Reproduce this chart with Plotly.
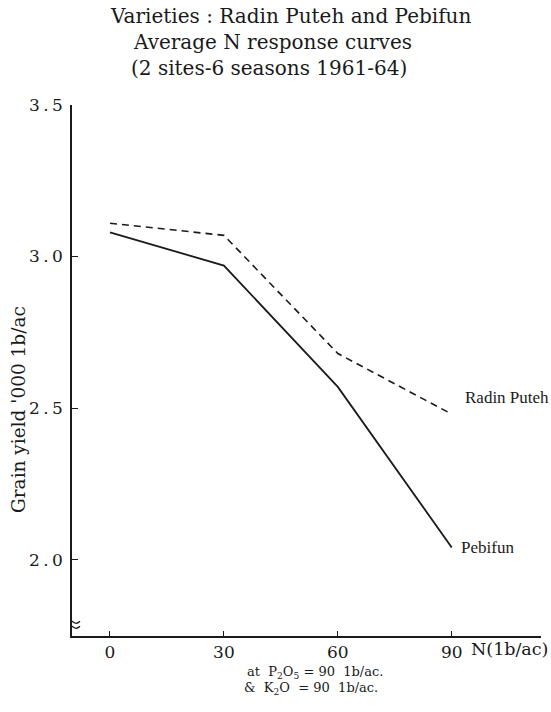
import plotly.graph_objects as go

n_rates = [0, 30, 60, 90]
radin_puteh = [3.11, 3.07, 2.68, 2.48]
pebifun = [3.08, 2.97, 2.57, 2.04]
x_tick_vals = [0, 30, 60, 90]
x_tick_text = ["0", "30", "60", "90"]
y_tick_vals = [2.0, 2.5, 3.0, 3.5]
y_tick_text = ["2\u2009.\u20090", "2\u2009.\u20095", "3\u2009.\u20090", "3\u2009.\u20095"]

SERIF_W = "DejaVu Serif, serif"
SERIF = "Liberation Serif, serif"
INK = "#1a1a1a"

fig = go.Figure()
fig.add_trace(go.Scatter(x=n_rates, y=radin_puteh, mode="lines", name="Radin Puteh",
                         line=dict(color=INK, width=1.6, dash="7px,5px")))
fig.add_trace(go.Scatter(x=n_rates, y=pebifun, mode="lines", name="Pebifun",
                         line=dict(color=INK, width=1.8)))

fig.update_layout(
    width=551, height=712,
    margin=dict(l=72, r=10, t=105, b=76),
    paper_bgcolor="white", plot_bgcolor="white",
    showlegend=False,
    font=dict(family=SERIF_W, color=INK, size=15),
    xaxis=dict(range=[-10, 113.5], showgrid=False, zeroline=False,
               showline=True, linecolor=INK, linewidth=1.5,
               ticks="inside", ticklen=5, tickcolor=INK,
               tickvals=x_tick_vals, ticktext=x_tick_text,
               tickfont=dict(size=17, family=SERIF_W, color=INK)),
    yaxis=dict(range=[1.748, 3.5], showgrid=False, zeroline=False,
               showline=True, linecolor=INK, linewidth=1.5,
               ticks="inside", ticklen=6, tickcolor=INK,
               tickvals=y_tick_vals, ticktext=y_tick_text,
               ticklabelstandoff=4,
               tickfont=dict(size=17, family=SERIF_W, color=INK)),
)

# y-axis title
fig.add_annotation(text="Grain yield '000 1b/ac", xref="paper", yref="paper",
                   x=(18 - 72) / 469, y=(636 - 410) / 531, textangle=-90,
                   xanchor="center", yanchor="middle", showarrow=False,
                   font=dict(size=18.5, family=SERIF_W, color=INK))

# title lines
titles = ["Varieties : Radin Puteh and Pebifun",
          "Average N response curves",
          "(2 sites-6 seasons 1961-64)"]
title_cx = [290, 272, 269]
for i, t in enumerate(titles):
    fig.add_annotation(text=t, xref="paper", yref="paper", x=(title_cx[i] - 72) / 469,
                       y=1 + (89 - 26 * i) / 531,
                       showarrow=False, xanchor="center", yanchor="middle",
                       font=dict(size=20, family=SERIF_W, color=INK))

# series labels
fig.add_annotation(text="Radin Puteh", x=n_rates[-1], y=radin_puteh[-1], xanchor="left", yanchor="middle",
                   xshift=11, yshift=17, showarrow=False, font=dict(size=17, family=SERIF, color=INK))
fig.add_annotation(text="Pebifun", x=n_rates[-1], y=pebifun[-1], xanchor="left", yanchor="middle",
                   xshift=7, yshift=0, showarrow=False, font=dict(size=17, family=SERIF, color=INK))

# x-axis unit label
fig.add_annotation(text="N(1b/ac)", x=n_rates[-1], xref="x", yref="paper", y=0, yshift=-13,
                   xanchor="left", yanchor="middle", xshift=17, showarrow=False,
                   font=dict(size=17.5, family=SERIF_W, color=INK))

# bottom notes
fig.add_annotation(text="at  P<sub>2</sub>O<sub>5</sub> = 90  1b/ac.", xref="paper", yref="paper",
                   x=(245 - 72) / 469, y=-36 / 531, xanchor="left", yanchor="middle",
                   showarrow=False, font=dict(size=13, family=SERIF_W, color=INK))
fig.add_annotation(text="&amp;  K<sub>2</sub>O  = 90  1b/ac.", xref="paper", yref="paper",
                   x=(242 - 72) / 469, y=-52 / 531, xanchor="left", yanchor="middle",
                   showarrow=False, font=dict(size=13, family=SERIF_W, color=INK))

# axis break symbol
for dy in (-3, 2):
    fig.add_shape(type="path", xref="x", yref="y", xsizemode="pixel", ysizemode="pixel",
                  xanchor=-10, yanchor=1.79,
                  path=f"M -8,{dy} Q -4,{dy+4} 0,{dy} Q 4,{dy-4} 8,{dy}",
                  line=dict(color=INK, width=1.2))

fig.write_html("out.html")
